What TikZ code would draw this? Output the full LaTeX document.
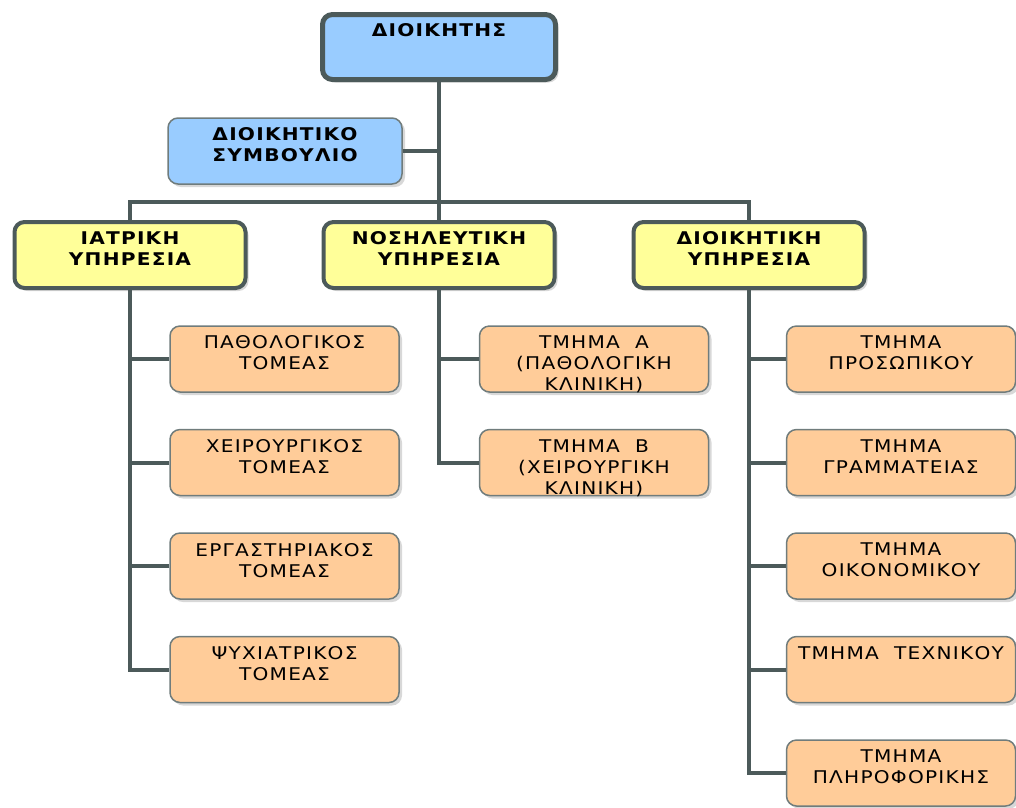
\documentclass[tikz,border=0pt]{standalone}
\usepackage{fontspec}
\setmainfont{DejaVu Sans}[LetterSpace=7, FakeStretch=1.15]
\usetikzlibrary{positioning,shadows}

\definecolor{edge}{RGB}{76,90,90}
\definecolor{thinedge}{RGB}{112,124,124}
\definecolor{bossblue}{RGB}{153,204,255}
\definecolor{svcyellow}{RGB}{255,255,153}
\definecolor{deptpeach}{RGB}{255,204,153}

\newcommand\boxlines[1]{\parbox[c][46pt][t]{226pt}{\centering #1}}

\tikzset{
  unit/.style={rounded corners=10pt, inner sep=0pt,
    font=\fontsize{17.5}{21}\selectfont,
    drop shadow={shadow xshift=3pt, shadow yshift=-3pt, fill=black!30}},
  boss/.style={unit, draw=edge, line width=5pt, fill=bossblue,
    minimum width=233pt, minimum height=65pt, font=\fontsize{17.5}{21}\selectfont\bfseries},
  service/.style={unit, draw=edge, line width=4pt, fill=svcyellow,
    minimum width=231pt, minimum height=66pt, font=\fontsize{17.5}{21}\selectfont\bfseries},
  council/.style={unit, draw=thinedge, line width=1.5pt, fill=bossblue,
    minimum width=234pt, minimum height=66pt, font=\fontsize{17.5}{21}\selectfont\bfseries},
  dept/.style={unit, draw=thinedge, line width=1.5pt, fill=deptpeach,
    minimum width=229pt, minimum height=66pt},
  wire/.style={draw=edge, line width=4pt}
}

\begin{document}
\begin{tikzpicture}[x=1pt, y=-1pt]
  \useasboundingbox (0,0) rectangle (1016,807);

  % top of the chart
  \node[boss] (chief) at (439,47) {\boxlines{ΔΙΟΙΚΗΤΗΣ}};
  \node[council] (board) at (285,151) {\boxlines{ΔΙΟΙΚΗΤΙΚΟ\\ΣΥΜΒΟΥΛΙΟ}};
  \coordinate (bar) at (439,202);

  % the three services
  \node[service] (medical) at (130,255) {\boxlines{ΙΑΤΡΙΚΗ\\ΥΠΗΡΕΣΙΑ}};
  \node[service] (nursing) at (439,255) {\boxlines{ΝΟΣΗΛΕΥΤΙΚΗ\\ΥΠΗΡΕΣΙΑ}};
  \node[service] (admin) at (749,255) {\boxlines{ΔΙΟΙΚΗΤΙΚΗ\\ΥΠΗΡΕΣΙΑ}};

  % departments
  \node[dept] (med1) at (284.5,359) {\boxlines{ΠΑΘΟΛΟΓΙΚΟΣ\\ΤΟΜΕΑΣ}};
  \node[dept] (med2) at (284.5,462.5) {\boxlines{ΧΕΙΡΟΥΡΓΙΚΟΣ\\ΤΟΜΕΑΣ}};
  \node[dept] (med3) at (284.5,566) {\boxlines{ΕΡΓΑΣΤΗΡΙΑΚΟΣ\\ΤΟΜΕΑΣ}};
  \node[dept] (med4) at (284.5,669.5) {\boxlines{ΨΥΧΙΑΤΡΙΚΟΣ\\ΤΟΜΕΑΣ}};

  \node[dept] (nur1) at (594,359) {\boxlines{ΤΜΗΜΑ\ \ Α\\(ΠΑΘΟΛΟΓΙΚΗ\\ΚΛΙΝΙΚΗ)}};
  \node[dept] (nur2) at (594,462.5) {\boxlines{ΤΜΗΜΑ\ \ Β\\(ΧΕΙΡΟΥΡΓΙΚΗ\\ΚΛΙΝΙΚΗ)}};

  \node[dept] (adm1) at (901,359) {\boxlines{ΤΜΗΜΑ\\ΠΡΟΣΩΠΙΚΟΥ}};
  \node[dept] (adm2) at (901,462.5) {\boxlines{ΤΜΗΜΑ\\ΓΡΑΜΜΑΤΕΙΑΣ}};
  \node[dept] (adm3) at (901,566) {\boxlines{ΤΜΗΜΑ\\ΟΙΚΟΝΟΜΙΚΟΥ}};
  \node[dept] (adm4) at (901,669.5) {\boxlines{ΤΜΗΜΑ\ \ ΤΕΧΝΙΚΟΥ}};
  \node[dept] (adm5) at (901,773) {\boxlines{ΤΜΗΜΑ\\ΠΛΗΡΟΦΟΡΙΚΗΣ}};

  % connectors
  \draw[wire] (chief) -- (nursing);
  \draw[wire] (board.east) -- (board.east -| bar);
  \draw[wire] (medical.north) |- (bar) -| (admin.north);
  \draw[wire] (medical.south) |- (med4.west);
  \draw[wire] (nursing.south) |- (nur2.west);
  \draw[wire] (admin.south) |- (adm5.west);
  \foreach \d in {med1,med2,med3}
    \draw[wire] (\d.west) -- (\d.west -| medical.south);
  \draw[wire] (nur1.west) -- (nur1.west -| nursing.south);
  \foreach \d in {adm1,adm2,adm3,adm4}
    \draw[wire] (\d.west) -- (\d.west -| admin.south);
\end{tikzpicture}
\end{document}
